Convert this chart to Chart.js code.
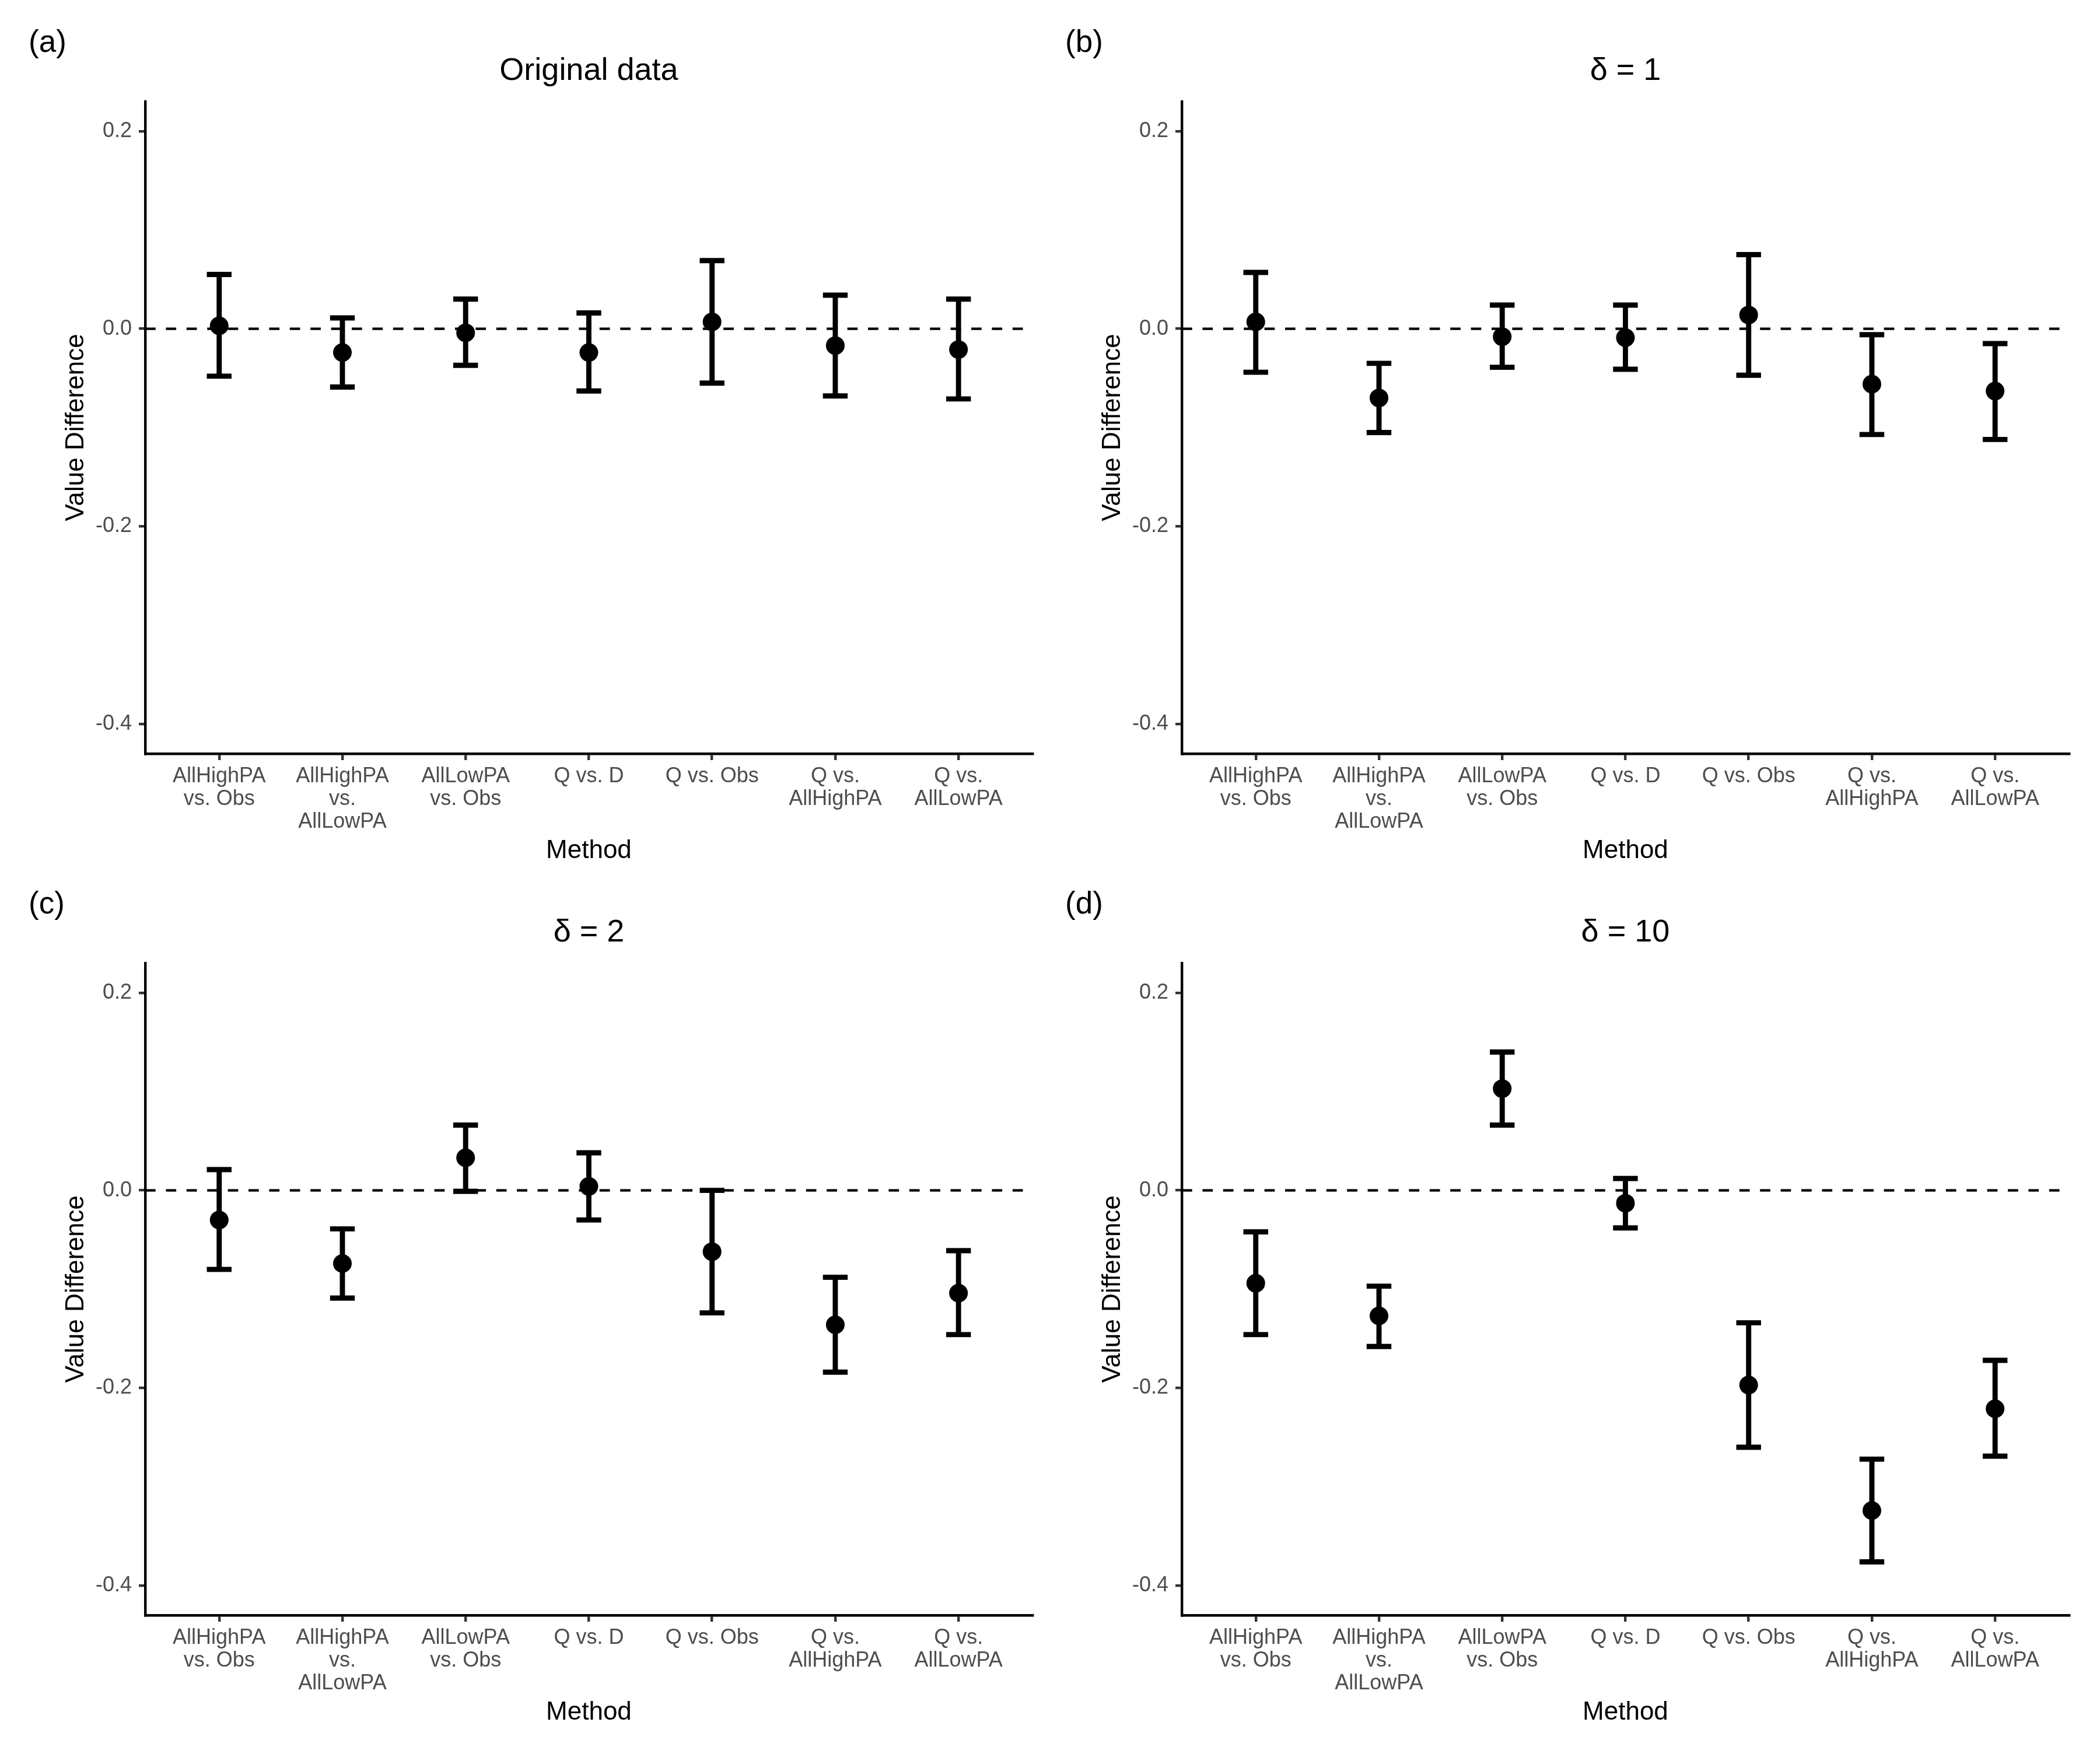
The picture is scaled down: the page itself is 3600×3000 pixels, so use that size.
<!DOCTYPE html>
<html>
<head>
<meta charset="utf-8">
<script src="https://cdn.jsdelivr.net/npm/chart.js@4.4.1/dist/chart.umd.min.js"></script>
<style>
html,body{margin:0;padding:0;background:#ffffff;}
body{width:3600px;height:3000px;position:relative;overflow:hidden;}
.panel{position:absolute;width:1800px;height:1500px;}
canvas{display:block;}
</style>
</head>
<body>
<div class="panel" style="left:0px;top:0px"><canvas id="c0" width="1800" height="1500"></canvas></div>
<div class="panel" style="left:1777px;top:0px"><canvas id="c1" width="1800" height="1500"></canvas></div>
<div class="panel" style="left:0px;top:1477px"><canvas id="c2" width="1800" height="1500"></canvas></div>
<div class="panel" style="left:1777px;top:1477px"><canvas id="c3" width="1800" height="1500"></canvas></div>
<script>
// ---------------- data ----------------
const categories = [
  ["AllHighPA", "vs. Obs"],
  ["AllHighPA", "vs.", "AllLowPA"],
  ["AllLowPA", "vs. Obs"],
  ["Q vs. D"],
  ["Q vs. Obs"],
  ["Q vs.", "AllHighPA"],
  ["Q vs.", "AllLowPA"]
];
const yTickValues = [-0.4, -0.2, 0.0, 0.2];
const panelLabels = ["(a)", "(b)", "(c)", "(d)"];
const panelTitles = ["Original data", "\u03B4 = 1", "\u03B4 = 2", "\u03B4 = 10"];

const origEst  = [0.003, -0.024, -0.004, -0.024, 0.007, -0.017, -0.021];
const origLow  = [-0.048, -0.059, -0.037, -0.063, -0.055, -0.068, -0.071];
const origHigh = [0.055, 0.011, 0.030, 0.016, 0.069, 0.034, 0.030];

const d1Est  = [0.007, -0.070, -0.008, -0.009, 0.014, -0.056, -0.063];
const d1Low  = [-0.044, -0.105, -0.039, -0.041, -0.047, -0.107, -0.112];
const d1High = [0.057, -0.035, 0.024, 0.024, 0.075, -0.006, -0.015];

const d2Est  = [-0.030, -0.074, 0.033, 0.004, -0.062, -0.136, -0.104];
const d2Low  = [-0.080, -0.109, -0.001, -0.030, -0.124, -0.184, -0.146];
const d2High = [0.021, -0.039, 0.066, 0.038, 0.000, -0.088, -0.061];

const d10Est  = [-0.094, -0.127, 0.103, -0.013, -0.197, -0.324, -0.221];
const d10Low  = [-0.146, -0.158, 0.066, -0.038, -0.260, -0.376, -0.269];
const d10High = [-0.042, -0.097, 0.140, 0.012, -0.134, -0.272, -0.172];

const referenceValue = 0;
const Y_MIN = -0.43, Y_MAX = 0.23;
const X_MIN = 0.4, X_MAX = 7.6;

// ---------------- chart ----------------
const FONT = '"Liberation Sans", Arial, Helvetica, sans-serif';
Chart.defaults.font.family = FONT;

const panelLabelPlugin = {
  id: 'panelLabel',
  afterDraw(chart, args, opts) {
    const ctx = chart.ctx;
    ctx.save();
    ctx.font = '53px ' + FONT;
    ctx.fillStyle = '#000000';
    ctx.textAlign = 'left';
    ctx.textBaseline = 'alphabetic';
    ctx.fillText(opts.text, opts.x, opts.y);
    ctx.restore();
  }
};

const series = [
  {est: origEst, low: origLow, high: origHigh},
  {est: d1Est, low: d1Low, high: d1High},
  {est: d2Est, low: d2Low, high: d2High},
  {est: d10Est, low: d10Low, high: d10High}
];

function makeChart(idx) {
  const s = series[idx];
  const xs = categories.map((c, i) => i + 1);
  const stems = [];
  xs.forEach((x, i) => {
    stems.push({x: x, y: s.low[i]});
    stems.push({x: x, y: s.high[i]});
    stems.push({x: x, y: null});
  });
  const caps = [];
  xs.forEach((x, i) => {
    caps.push({x: x, y: s.low[i]});
    caps.push({x: x, y: s.high[i]});
  });
  const pts = xs.map((x, i) => ({x: x, y: s.est[i]}));

  const tickGrid = {drawOnChartArea: false, drawTicks: true, tickLength: 11, color: '#333333', lineWidth: 4.4};
  const axisBorder = {display: true, color: '#000000', width: 4.4};

  return new Chart(document.getElementById('c' + idx), {
    type: 'scatter',
    data: {
      datasets: [
        {
          data: [{x: X_MIN, y: referenceValue}, {x: X_MAX, y: referenceValue}],
          showLine: true, borderColor: '#000000', borderWidth: 4.4,
          borderDash: [17.7, 17.7], pointRadius: 0, order: 4
        },
        {
          data: stems, showLine: true, spanGaps: false,
          borderColor: '#000000', borderWidth: 8.9, pointRadius: 0, order: 3
        },
        {
          data: caps, showLine: false, pointStyle: 'line',
          pointRadius: 21.2, pointBorderWidth: 8.9, pointBorderColor: '#000000',
          pointBackgroundColor: '#000000', order: 2
        },
        {
          data: pts, showLine: false, pointStyle: 'circle',
          pointRadius: 16, pointBorderWidth: 0, pointBackgroundColor: '#000000',
          pointBorderColor: '#000000', order: 1
        }
      ]
    },
    options: {
      responsive: false,
      animation: false,
      devicePixelRatio: 1,
      events: [],
      layout: {padding: {top: 0, left: 0, right: 21, bottom: 0}},
      plugins: {
        legend: {display: false},
        tooltip: {enabled: false},
        title: {
          display: true, text: panelTitles[idx], color: '#000000',
          font: {size: 54, weight: 'normal', lineHeight: 1.2},
          padding: {top: 90, bottom: 19.2}, fullSize: false, align: 'center'
        },
        panelLabel: {text: panelLabels[idx], x: 49, y: 89}
      },
      scales: {
        x: {
          type: 'linear', min: X_MIN, max: X_MAX,
          afterBuildTicks: (sc) => { sc.ticks = categories.map((c, i) => ({value: i + 1})); },
          afterFit: (sc) => { sc.height = 208; },
          ticks: {
            callback: (v) => categories[Math.round(v) - 1],
            color: '#4D4D4D', font: {size: 36, lineHeight: 39 / 36},
            padding: 9, maxRotation: 0, minRotation: 0, autoSkip: false
          },
          grid: tickGrid,
          border: axisBorder,
          title: {
            display: true, text: 'Method', color: '#000000',
            font: {size: 44, lineHeight: 1.2}, padding: {top: 0, bottom: 15}
          }
        },
        y: {
          type: 'linear', min: Y_MIN, max: Y_MAX,
          afterBuildTicks: (sc) => { sc.ticks = yTickValues.map(v => ({value: v})); },
          afterFit: (sc) => { sc.width = 249; },
          ticks: {
            callback: (v) => Number(v).toFixed(1),
            color: '#4D4D4D', font: {size: 36}, padding: 12
          },
          grid: tickGrid,
          border: axisBorder,
          title: {
            display: true, text: 'Value Difference', color: '#000000',
            font: {size: 44, lineHeight: 1.2}, padding: {top: 104.6, bottom: 0}
          }
        }
      }
    },
    plugins: [panelLabelPlugin]
  });
}

for (let i = 0; i < 4; i++) makeChart(i);
</script>
</body>
</html>
